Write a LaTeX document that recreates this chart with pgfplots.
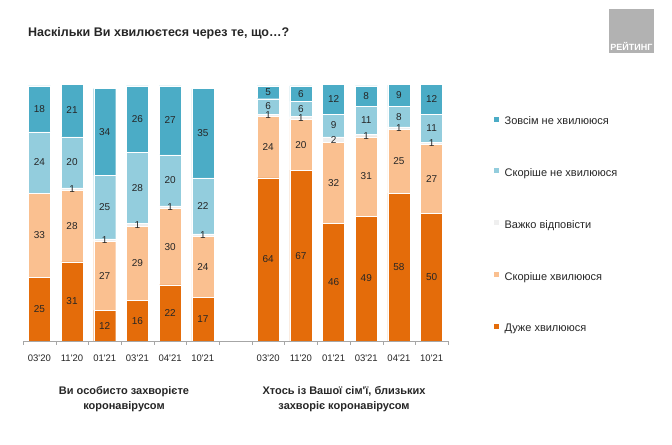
\documentclass[border=0pt]{standalone}
\usepackage{pgfplots}
\pgfplotsset{compat=1.18}
\usepackage{pgfplotstable}
\usepackage{fontspec}
\setmainfont{Liberation Sans}
\definecolor{cDuzhe}{HTML}{E46C0A}
\definecolor{cSk}{HTML}{FAC090}
\definecolor{cVa}{HTML}{EFEFEF}
\definecolor{cSkNe}{HTML}{93CDDD}
\definecolor{cZov}{HTML}{4BACC6}
\definecolor{cTxt}{HTML}{262626}
\definecolor{cAx}{HTML}{A6A6A6}

\pgfplotstableread{
x duzhe sk va valbl skne zov
0 25 33 0 {} 24 18
1 31 28 1 1 20 21
2 12 27 1 1 25 34
3 16 29 1 1 28 26
4 22 30 1 1 20 27
5 17 24 1 1 22 35
7 64 24 1 1 6 5
8 67 20 1 1 6 6
9 46 32 2 2 9 12
10 49 31 1 1 11 8
11 58 25 1 1 8 9
12 50 27 1 1 11 12
}\data

\pgfplotsset{
  base/.style={
    scale only axis, width=425bp, height=255bp,
    xmin=-0.5, xmax=12.5, ymin=0, ymax=100,
    ybar stacked, bar width=22bp,
    at={(23bp,104bp)}, anchor=south west,
  }
}

\begin{document}
\begin{tikzpicture}[x=1bp,y=1bp]
\fill[white] (0,0) rectangle (672,445);
\useasboundingbox (0,0) rectangle (672,445);

\begin{axis}[base,
  axis x line=bottom, axis y line=none,
  axis line style={-, draw=cAx},
  xtick={0,1,2,3,4,5,7,8,9,10,11,12},
  xticklabels={03\textquotesingle{}20,11\textquotesingle{}20,01\textquotesingle{}21,03\textquotesingle{}21,04\textquotesingle{}21,10\textquotesingle{}21,
               03\textquotesingle{}20,11\textquotesingle{}20,01\textquotesingle{}21,03\textquotesingle{}21,04\textquotesingle{}21,10\textquotesingle{}21},
  major tick length=0pt,
  minor xtick={-0.5,0.5,...,12.5},
  minor tick length=4bp,
  tick align=outside,
  minor tick style={draw=cAx},
  xticklabel style={font=\fontsize{9.5bp}{11bp}\selectfont, text=cTxt, yshift=-10bp},
  reverse legend,
  legend style={at={(1.106,0.884)}, anchor=north west, draw=none, fill=none,
    inner sep=0pt, row sep=39.5bp, font=\fontsize{11bp}{13bp}\selectfont, text=cTxt,
    nodes={inner sep=0pt, text height=8bp, text depth=3bp}},
  legend cell align=left,
  legend image code/.code={\path (0bp,0bp) -- (11bp,0bp); \fill[#1] (0bp,0.5bp) rectangle (6bp,6.5bp);},
]
\addplot[fill=cDuzhe, draw=white, line width=0.4bp] table[x=x,y=duzhe]{\data};
\addlegendentry{Дуже хвилююся}
\addplot[fill=cSk, draw=white, line width=0.4bp] table[x=x,y=sk]{\data};
\addlegendentry{Скоріше хвилююся}
\addplot[fill=cVa, draw=white, line width=0.4bp] table[x=x,y=va]{\data};
\addlegendentry{Важко відповісти}
\addplot[fill=cSkNe, draw=white, line width=0.4bp] table[x=x,y=skne]{\data};
\addlegendentry{Скоріше не хвилююся}
\addplot[fill=cZov, draw=white, line width=0.4bp] table[x=x,y=zov]{\data};
\addlegendentry{Зовсім не хвилююся}
\end{axis}

\begin{axis}[base, hide axis, clip=false,
  nodes near coords,
  point meta=explicit symbolic,
  every node near coord/.append style={anchor=center,
     font=\fontsize{10bp}{12bp}\selectfont, text=cTxt, inner sep=0pt},
]
\addplot[draw=none, fill=none] table[x=x,y=duzhe,meta=duzhe]{\data};
\addplot[draw=none, fill=none] table[x=x,y=sk,meta=sk]{\data};
\addplot[draw=none, fill=none] table[x=x,y=va,meta=valbl]{\data};
\addplot[draw=none, fill=none] table[x=x,y=skne,meta=skne]{\data};
\addplot[draw=none, fill=none] table[x=x,y=zov,meta=zov]{\data};
\end{axis}

\node[anchor=base west, font=\bfseries\fontsize{12.5bp}{15bp}\selectfont, text=cTxt, inner sep=0pt]
  at (28,408.5) {Наскільки Ви хвилюєтеся через те, що…?};

\fill[black!30] (609,392) rectangle (654,436);
\node[anchor=base, font=\bfseries\fontsize{9bp}{10bp}\selectfont, text=white, inner sep=0pt]
  at (631.5,394) {РЕЙТИНГ};

\node[align=center, font=\bfseries\fontsize{11bp}{15bp}\selectfont, text=cTxt]
  at (124,45.5) {Ви особисто захворієте\\коронавірусом};
\node[align=center, font=\bfseries\fontsize{11bp}{15bp}\selectfont, text=cTxt]
  at (344,45.5) {Хтось із Вашої сім\textquotesingle{}ї, близьких\\захворіє коронавірусом};
\end{tikzpicture}
\end{document}
